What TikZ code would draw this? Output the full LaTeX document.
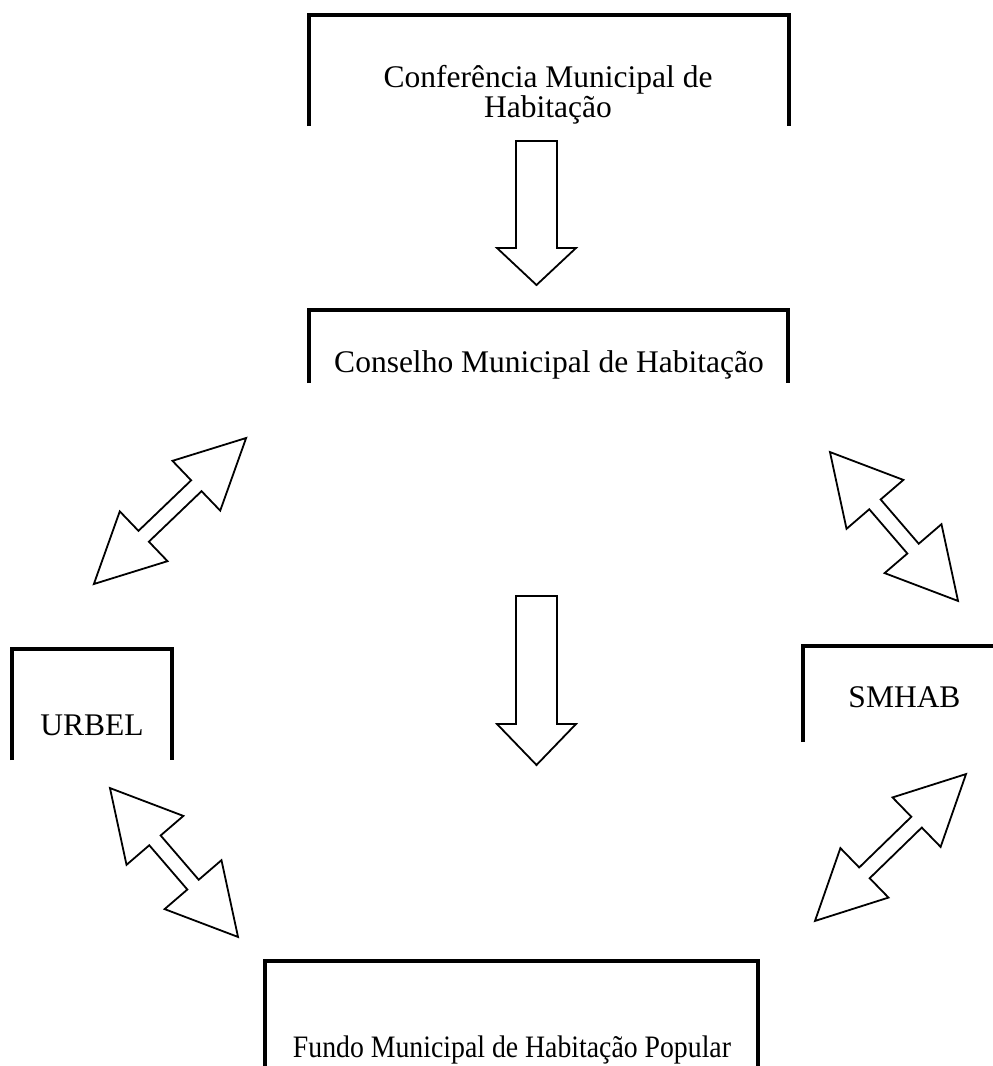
\documentclass[tikz,border=0pt]{standalone}
\usepackage{fontspec}
\setmainfont{Liberation Serif}
\newfontfamily\estreita[FakeStretch=0.89]{Liberation Serif}
\usetikzlibrary{positioning}
\tikzset{
    caixa/.style={draw=none, rectangle, inner sep=0pt, outer sep=0pt, anchor=north west},
    moldura/.style={draw=black, line width=3.2pt},
    rotulo/.style={font=\fontsize{31.5}{30}\selectfont, inner sep=0pt, anchor=base, align=center},
    seta/.style={draw=black, fill=white, line width=1.8pt, line join=miter},
}
% seta dupla: centro, angulo, comprimento, meia largura da ponta
\newcommand{\setadupla}[4]{%
    \begin{scope}[shift={#1}, rotate=#2]
        \draw[seta] ({#3/2},0) -- ({#3/2-69},#4) -- ({#3/2-69},7.5) -- ({-#3/2+69},7.5)
            -- ({-#3/2+69},#4) -- ({-#3/2},0) -- ({-#3/2+69},-#4) -- ({-#3/2+69},-7.5)
            -- ({#3/2-69},-7.5) -- ({#3/2-69},-#4) -- cycle;
    \end{scope}}
% seta para baixo: x, topo, base da ponta, ponta
\newcommand{\setabaixo}[4]{%
    \draw[seta] (#1-20.5,#2) -- (#1+20.5,#2) -- (#1+20.5,#3) -- (#1+39.5,#3)
        -- (#1,#4) -- (#1-39.5,#3) -- (#1-20.5,#3) -- cycle;}

\begin{document}
\begin{tikzpicture}[x=1pt, y=-1pt]
    \useasboundingbox (0,0) rectangle (993,1066);

    % molduras abertas embaixo
    \node [caixa, minimum width=480pt, minimum height=111pt] (conf) at (309,15) {};
    \node [caixa, minimum width=479pt, minimum height=73pt] (cons) at (309,310) {};
    \node [caixa, minimum width=160pt, minimum height=111pt] (urbel) at (12,649) {};
    \node [caixa, minimum width=200pt, minimum height=96pt] (smhab) at (803,646) {};
    \node [caixa, minimum width=493pt, minimum height=110pt] (fundo) at (265,961) {};

    \draw[moldura] (conf.south west) |- (conf.north east) -- (conf.south east);
    \draw[moldura] (cons.south west) |- (cons.north east) -- (cons.south east);
    \draw[moldura] (urbel.south west) |- (urbel.north east) -- (urbel.south east);
    \draw[moldura] (smhab.south west) |- (smhab.north east) -- (smhab.south east);
    \draw[moldura] (fundo.south west) |- (fundo.north east) -- (fundo.south east);

    % textos
    \node [rotulo] (confT) at (548,117) {Conferência Municipal de\\Habitação};
    \node [rotulo] (consT) at (549,372) {Conselho Municipal de Habitação};
    \node [rotulo] (urbelT) at (92,735) {URBEL};
    \node [rotulo] (smhabT) at (904.5,707) {SMHAB};
    \node [rotulo, font=\estreita\fontsize{31.2}{30}\selectfont] (fundoT) at (512,1057) {Fundo Municipal de Habitação Popular};

    % setas
    \setabaixo{536.5}{141}{248}{285}
    \setabaixo{536.5}{596}{724}{765}

    \setadupla{(170,511)}{43.8}{211}{34.5}
    \setadupla{(894,526.5)}{-49.3}{196.4}{37.5}
    \setadupla{(174,862.5)}{-49.3}{196.4}{37.5}
    \setadupla{(890.5,847.5)}{44.2}{210.7}{34.5}
\end{tikzpicture}
\end{document}
